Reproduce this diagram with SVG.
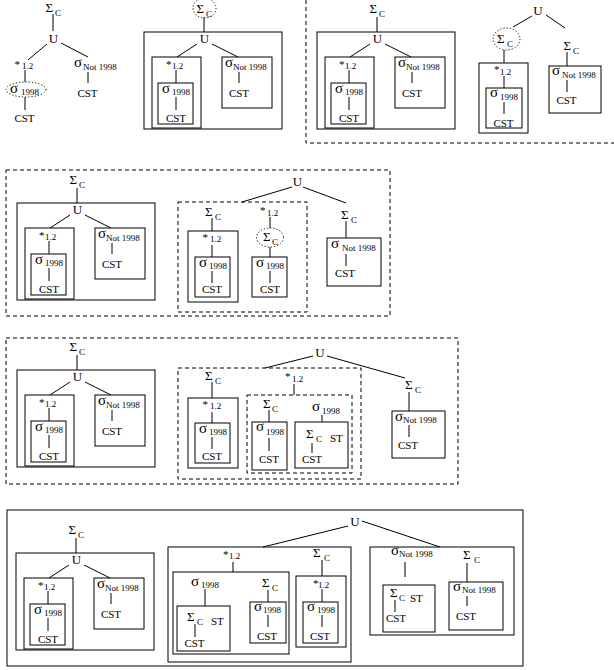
<svg xmlns="http://www.w3.org/2000/svg" width="614" height="670" viewBox="0 0 614 670">
<style>
rect{fill:none;stroke:#000;stroke-width:1}
line{stroke:#000;stroke-width:1}
.d{stroke-dasharray:4 3}
.o{fill:none;stroke:#000;stroke-width:1;stroke-dasharray:1.2 2}
text{font-family:"Liberation Serif","Times New Roman",serif;fill:#000}
.S{font-size:13px}
.g{font-size:15px}
.u{font-size:13px;text-anchor:middle}
.t{font-size:11px}
.m{text-anchor:middle}
.c{font-size:9px}
</style>
<defs>
<g id="tpl">
<g class="edges">
<line x1="60" y1="-15" x2="60" y2="0"/>
<line x1="53" y1="12" x2="33" y2="25"/>
<line x1="68" y1="12" x2="94" y2="25"/>
<line x1="32" y1="38" x2="32" y2="51"/>
<line x1="32" y1="65" x2="32" y2="78"/>
<line x1="95" y1="40" x2="95" y2="51"/>
</g>
<g class="sumc"><text x="52.5" y="-19.5" class="S">Σ</text><text x="62" y="-15.5" class="c">C</text></g>
<g class="union"><rect x="0" y="0" width="138" height="97"/><text x="60.5" y="11" class="u">U</text></g>
<g class="star"><rect x="8" y="25" width="49" height="71"/><text x="22" y="36" class="t">*</text><text x="28" y="37" class="c">1.2</text></g>
<g class="sel"><rect x="14" y="51" width="35" height="41"/><text x="18" y="60.5" class="g">σ</text><text x="28" y="63" class="c">1998</text><text x="32" y="89.5" class="t m">CST</text></g>
<g class="not"><rect x="78" y="25" width="50" height="51"/><text x="81" y="34.5" class="g">σ</text><text x="89" y="38" class="c">Not 1998</text><text x="95" y="65" class="t m">CST</text></g>
</g>
</defs>

<g id="panel1">
<g id="p1-edges">
<line x1="53" y1="14" x2="53" y2="31"/>
<line x1="47" y1="44" x2="28" y2="60"/>
<line x1="61" y1="43" x2="88" y2="57"/>
<line x1="25" y1="70" x2="25" y2="82"/>
<line x1="25" y1="97" x2="25" y2="110"/>
<line x1="88" y1="72" x2="88" y2="83"/>
</g>
<g id="p1-sum"><text x="45.5" y="12" class="S">Σ</text><text x="55" y="16" class="c">C</text></g>
<g id="p1-u"><text x="53.5" y="43" class="u">U</text></g>
<g id="p1-star"><text x="14.5" y="68" class="t">*</text><text x="22" y="69" class="c">1.2</text></g>
<g id="p1-sel"><ellipse cx="26" cy="89.5" rx="20" ry="7.5" class="o"/><text x="10" y="92.5" class="g">σ</text><text x="21" y="95" class="c">1998</text><text x="24.5" y="121.5" class="t m">CST</text></g>
<g id="p1-not"><text x="74" y="66.5" class="g">σ</text><text x="83" y="70" class="c">Not 1998</text><text x="87.5" y="96.5" class="t m">CST</text></g>
</g>

<g id="panel2">
<ellipse id="p2-mark" cx="204.5" cy="8" rx="11.5" ry="10" class="o"/>
<use id="p2-tree" href="#tpl" transform="translate(144,32)"/>
</g>

<g id="panel3">
<rect id="p3-frame" x="306" y="-2" width="320" height="145" class="d"/>
<use id="p3-left" href="#tpl" transform="translate(317,32)"/>
<g id="p3-edges">
<line x1="532" y1="16" x2="513" y2="27"/>
<line x1="546" y1="15" x2="565" y2="28"/>
<line x1="504" y1="50" x2="504" y2="63"/>
<line x1="504" y1="76" x2="504" y2="88"/>
<line x1="504" y1="102" x2="504" y2="114"/>
<line x1="567" y1="52" x2="567" y2="66"/>
<line x1="567" y1="80" x2="567" y2="92"/>
</g>
<g id="p3-u"><text x="538" y="15" class="u">U</text></g>
<g id="p3-sum1"><ellipse cx="506.5" cy="39" rx="13.5" ry="11" class="o"/><text x="497" y="42.5" class="S">Σ</text><text x="507" y="47" class="c">C</text></g>
<g id="p3-star"><rect x="479" y="63" width="49" height="70"/><text x="494" y="73" class="t">*</text><text x="500" y="74.5" class="c">1.2</text></g>
<g id="p3-sel"><rect x="486" y="88" width="36" height="40"/><text x="490" y="97" class="g">σ</text><text x="500" y="100" class="c">1998</text><text x="503.5" y="126.5" class="t m">CST</text></g>
<g id="p3-sum2"><text x="563.5" y="50" class="S">Σ</text><text x="573" y="54" class="c">C</text></g>
<g id="p3-not"><rect x="549" y="66" width="52" height="47"/><text x="552" y="75" class="g">σ</text><text x="562" y="78" class="c">Not 1998</text><text x="566.5" y="104" class="t m">CST</text></g>
</g>

<g id="row2">
<rect id="r2-frame" x="6" y="170" width="384" height="146" class="d"/>
<rect id="r2-inner" x="178" y="202" width="129" height="110" class="d"/>
<use id="r2-left" href="#tpl" transform="translate(17,203)"/>
<g id="r2-edges">
<line x1="292" y1="187" x2="242" y2="202"/>
<line x1="303" y1="187" x2="346" y2="203"/>
<line x1="212" y1="218" x2="212" y2="231"/>
<line x1="212" y1="245" x2="212" y2="257"/>
<line x1="212" y1="271" x2="212" y2="283"/>
<line x1="270" y1="217" x2="270" y2="228"/>
<line x1="270" y1="247" x2="270" y2="257"/>
<line x1="270" y1="271" x2="270" y2="283"/>
<line x1="346" y1="221" x2="346" y2="238"/>
<line x1="346" y1="254" x2="346" y2="266"/>
</g>
<g id="r2-u"><text x="297.5" y="186" class="u">U</text></g>
<g id="r2-sum1"><text x="205" y="216" class="S">Σ</text><text x="215" y="220" class="c">C</text></g>
<g id="r2-star1"><rect x="188" y="231" width="50" height="71"/><text x="202.5" y="241" class="t">*</text><text x="210" y="242" class="c">1.2</text></g>
<g id="r2-sel1"><rect x="195" y="257" width="35" height="40"/><text x="199" y="266.5" class="g">σ</text><text x="209" y="269" class="c">1998</text><text x="212" y="293" class="t m">CST</text></g>
<g id="r2-star2"><text x="260" y="214" class="t">*</text><text x="267" y="215.5" class="c">1.2</text></g>
<g id="r2-sum2"><ellipse cx="270" cy="237.5" rx="13.5" ry="9.5" class="o"/><text x="263" y="240.5" class="S">Σ</text><text x="272" y="244.5" class="c">C</text></g>
<g id="r2-sel2"><rect x="252" y="257" width="35" height="40"/><text x="256" y="266.5" class="g">σ</text><text x="266" y="269" class="c">1998</text><text x="270" y="293" class="t m">CST</text></g>
<g id="r2-sum3"><text x="341" y="219" class="S">Σ</text><text x="351" y="223" class="c">C</text></g>
<g id="r2-not"><rect x="327" y="238" width="54" height="48"/><text x="331" y="247.5" class="g">σ</text><text x="342" y="251" class="c">Not 1998</text><text x="345" y="277" class="t m">CST</text></g>
</g>

<g id="row3">
<rect id="r3-frame" x="6" y="338" width="452" height="146" class="d"/>
<rect id="r3-inner1" x="178" y="368" width="183" height="111" class="d"/>
<rect id="r3-inner2" x="247" y="395" width="105" height="78" class="d"/>
<use id="r3-left" href="#tpl" transform="translate(17,370)"/>
<g id="r3-edges">
<line x1="313" y1="356" x2="265" y2="368"/>
<line x1="327" y1="356" x2="405" y2="378"/>
<line x1="212" y1="382" x2="212" y2="398"/>
<line x1="212" y1="412" x2="212" y2="423"/>
<line x1="212" y1="437" x2="212" y2="449"/>
<line x1="294" y1="384" x2="294" y2="395"/>
<line x1="269" y1="410" x2="269" y2="422"/>
<line x1="269" y1="438" x2="269" y2="451"/>
<line x1="322" y1="415" x2="322" y2="422"/>
<line x1="312" y1="443" x2="312" y2="453"/>
<line x1="409" y1="392" x2="409" y2="411"/>
<line x1="409" y1="425" x2="409" y2="437"/>
</g>
<g id="r3-u"><text x="320" y="357" class="u">U</text></g>
<g id="r3-sum1"><text x="205" y="380" class="S">Σ</text><text x="215" y="384" class="c">C</text></g>
<g id="r3-star1"><rect x="188" y="398" width="50" height="70"/><text x="202.5" y="408" class="t">*</text><text x="210" y="409" class="c">1.2</text></g>
<g id="r3-sel1"><rect x="195" y="423" width="35" height="40"/><text x="199" y="432.5" class="g">σ</text><text x="209" y="435" class="c">1998</text><text x="212" y="460" class="t m">CST</text></g>
<g id="r3-star2"><text x="285" y="380" class="t">*</text><text x="292" y="381.5" class="c">1.2</text></g>
<g id="r3-sum2"><text x="263" y="408" class="S">Σ</text><text x="272" y="412" class="c">C</text></g>
<g id="r3-sel2"><rect x="252" y="422" width="35" height="48"/><text x="256" y="431" class="g">σ</text><text x="266" y="435" class="c">1998</text><text x="269" y="463" class="t m">CST</text></g>
<g id="r3-sel3"><text x="312" y="411" class="g">σ</text><text x="322" y="414" class="c">1998</text></g>
<g id="r3-st"><rect x="295" y="422" width="53" height="46"/><text x="306" y="438" class="S">Σ</text><text x="316" y="442" class="c">C</text><text x="330" y="442" class="t">ST</text><text x="312" y="463" class="t m">CST</text></g>
<g id="r3-sum3"><text x="405" y="389" class="S">Σ</text><text x="415" y="393" class="c">C</text></g>
<g id="r3-not"><rect x="392" y="411" width="53" height="47"/><text x="395" y="420.5" class="g">σ</text><text x="403" y="423" class="c">Not 1998</text><text x="408" y="449" class="t m">CST</text></g>
</g>

<g id="row4">
<rect id="r4-frame" x="7" y="510" width="516" height="156"/>
<use id="r4-left" href="#tpl" transform="translate(16,553)"/>
<g id="r4-edges">
<line x1="348" y1="526" x2="263" y2="547"/>
<line x1="362" y1="521" x2="440" y2="547"/>
<line x1="233" y1="562" x2="233" y2="572"/>
<line x1="205" y1="589" x2="205" y2="606"/>
<line x1="195" y1="624" x2="195" y2="637"/>
<line x1="268" y1="590" x2="268" y2="602"/>
<line x1="268" y1="615" x2="268" y2="627"/>
<line x1="322" y1="560" x2="322" y2="576"/>
<line x1="322" y1="589" x2="322" y2="602"/>
<line x1="322" y1="615" x2="322" y2="627"/>
<line x1="405" y1="562" x2="405" y2="577"/>
<line x1="395" y1="600" x2="395" y2="612"/>
<line x1="467" y1="563" x2="467" y2="582"/>
<line x1="467" y1="596" x2="467" y2="606"/>
</g>
<g id="r4-u"><text x="355" y="526" class="u">U</text></g>
<g id="r4-starA"><rect x="168" y="547" width="183" height="115"/><text x="223" y="558" class="t">*</text><text x="229" y="559" class="c">1.2</text></g>
<g id="r4-selB"><rect x="173" y="572" width="116" height="82"/><text x="191" y="586" class="g">σ</text><text x="201" y="588" class="c">1998</text></g>
<g id="r4-st1"><rect x="177" y="606" width="53" height="45"/><text x="187" y="621" class="S">Σ</text><text x="197" y="625" class="c">C</text><text x="211" y="625" class="t">ST</text><text x="194.5" y="647" class="t m">CST</text></g>
<g id="r4-sum1"><text x="262" y="587" class="S">Σ</text><text x="272" y="591" class="c">C</text></g>
<g id="r4-sel1"><rect x="250" y="602" width="36" height="41"/><text x="254" y="611" class="g">σ</text><text x="263" y="612.5" class="c">1998</text><text x="267" y="640" class="t m">CST</text></g>
<g id="r4-sum2"><text x="313" y="557" class="S">Σ</text><text x="324" y="561" class="c">C</text></g>
<g id="r4-star2"><rect x="296" y="576" width="50" height="71"/><text x="313" y="587" class="t">*</text><text x="318" y="587.5" class="c">1.2</text></g>
<g id="r4-sel2"><rect x="303" y="602" width="35" height="41"/><text x="307" y="611" class="g">σ</text><text x="317" y="612.5" class="c">1998</text><text x="320" y="640" class="t m">CST</text></g>
<g id="r4-notC"><rect x="370" y="547" width="144" height="88"/><text x="391" y="555" class="g">σ</text><text x="399" y="557" class="c">Not 1998</text></g>
<g id="r4-st2"><rect x="383" y="585" width="52" height="47"/><text x="390" y="597" class="S">Σ</text><text x="399" y="601" class="c">C</text><text x="410" y="602" class="t">ST</text><text x="396" y="622" class="t m">CST</text></g>
<g id="r4-sum3"><text x="463" y="559" class="S">Σ</text><text x="474" y="563" class="c">C</text></g>
<g id="r4-not"><rect x="449" y="582" width="54" height="48"/><text x="453" y="590.5" class="g">σ</text><text x="462" y="593" class="c">Not 1998</text><text x="466" y="620" class="t m">CST</text></g>
</g>
</svg>
